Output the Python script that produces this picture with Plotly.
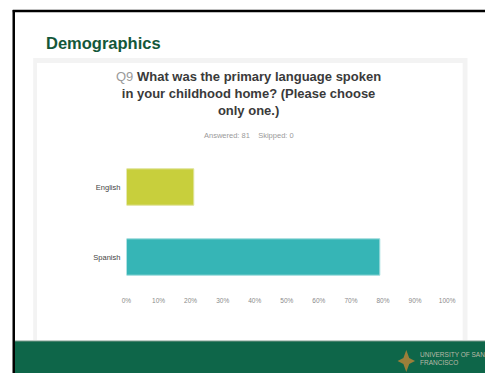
import plotly.graph_objects as go

# ---- data ----
categories = ["English", "Spanish"]
values = [0.2099, 0.7901]          # 17 of 81, 64 of 81
bar_colors = ["#c8cf3c", "#36b5b6"]
tick_vals = [i / 10 for i in range(11)]
tick_text = [f"{i*10}%" for i in range(11)]

W, H = 494, 373

def px(x):
    return x / W

def py(y):
    return 1 - y / H

fig = go.Figure()
fig.add_trace(go.Bar(
    y=categories, x=values, orientation="h",
    marker=dict(color=bar_colors,
                line=dict(color=["#dfe39a", "#9fdcdc"], width=1)),
    width=0.52, showlegend=False, hoverinfo="skip",
))

shapes = []
# light gray frame with white panel
shapes.append(dict(type="rect", xref="paper", yref="paper",
                   x0=px(29), x1=px(476), y0=py(340), y1=py(58),
                   fillcolor="#f3f3f3", line=dict(width=0), layer="below"))
shapes.append(dict(type="rect", xref="paper", yref="paper",
                   x0=px(33), x1=px(471), y0=py(340), y1=py(63),
                   fillcolor="#ffffff", line=dict(width=0), layer="below"))
# white right margin of slide
shapes.append(dict(type="rect", xref="paper", yref="paper",
                   x0=px(478), x1=1, y0=py(340), y1=py(13),
                   fillcolor="#ffffff", line=dict(width=0), layer="above"))
# footer
shapes.append(dict(type="rect", xref="paper", yref="paper",
                   x0=px(10), x1=1, y0=0, y1=py(341),
                   fillcolor="#0e6649", line=dict(width=0), layer="above"))
shapes.append(dict(type="line", xref="paper", yref="paper",
                   x0=px(10), x1=1, y0=py(341), y1=py(341),
                   line=dict(color="#7d9a8c", width=1)))
# slide border (black)
shapes.append(dict(type="line", xref="paper", yref="paper",
                   x0=px(9), x1=px(9), y0=0, y1=py(10),
                   line=dict(color="#000000", width=2.5)))
shapes.append(dict(type="line", xref="paper", yref="paper",
                   x0=px(8), x1=1, y0=py(11), y1=py(11),
                   line=dict(color="#000000", width=2.5)))
# logo star
cx, cy = 413, 361
pts = [(cx, cy - 11), (cx + 3, cy - 3), (cx + 9, cy), (cx + 3, cy + 3),
       (cx, cy + 11), (cx - 3, cy + 3), (cx - 9, cy), (cx - 3, cy - 3)]
path = "M " + " L ".join(f"{px(x)},{py(y)}" for x, y in pts) + " Z"
shapes.append(dict(type="path", xref="paper", yref="paper", path=path,
                   fillcolor="#9c7f3a", line=dict(width=0), layer="above"))

annotations = [
    dict(text="<b>Demographics</b>", xref="paper", yref="paper",
         x=px(40), y=py(43), xanchor="left", yanchor="middle", showarrow=False,
         font=dict(family="Liberation Sans", size=16.5, color="#14573a")),
    dict(text="<span style='color:#9a9a9a'>Q9</span> <b>What was the primary language spoken<br>"
              "in your childhood home? (Please choose<br>only one.)</b>",
         xref="paper", yref="paper", x=px(251), y=py(94), xanchor="center",
         yanchor="middle", showarrow=False, align="center",
         font=dict(family="Liberation Sans", size=13, color="#3a3a3a")),
    dict(text="Answered: 81&nbsp;&nbsp;&nbsp;&nbsp;Skipped: 0", xref="paper", yref="paper",
         x=px(251), y=py(135), xanchor="center", yanchor="middle",
         showarrow=False, font=dict(family="Liberation Sans", size=7.5, color="#9a9a9a")),
    dict(text="UNIVERSITY OF SAN<br>FRANCISCO", xref="paper", yref="paper",
         x=px(425), y=py(358), xanchor="left", yanchor="middle", showarrow=False,
         align="left", font=dict(family="Liberation Sans", size=6.5, color="#b9b9a8")),
]

fig.update_layout(
    width=W, height=H, margin=dict(l=0, r=0, t=0, b=0),
    paper_bgcolor="#ffffff", plot_bgcolor="#f1f1f1",
    shapes=shapes, annotations=annotations, bargap=0.48,
    xaxis=dict(domain=[px(125), px(455)], range=[0, 1], tickvals=tick_vals,
               ticktext=tick_text, showgrid=True, gridcolor="#ffffff", gridwidth=1,
               zeroline=False, showline=False, ticks="", ticklabelstandoff=3,
               tickfont=dict(family="Liberation Sans", size=6.5, color="#8a8a8a"),
               fixedrange=True),
    yaxis=dict(domain=[py(292), py(152)], categoryorder="array",
               categoryarray=categories, autorange="reversed",
               showgrid=False, zeroline=False, ticks="", showline=False,
               ticklabelstandoff=5,
               tickfont=dict(family="Liberation Sans", size=7.5, color="#444444"),
               fixedrange=True),
)

fig.write_html("out.html", config={"displayModeBar": False, "responsive": False})
